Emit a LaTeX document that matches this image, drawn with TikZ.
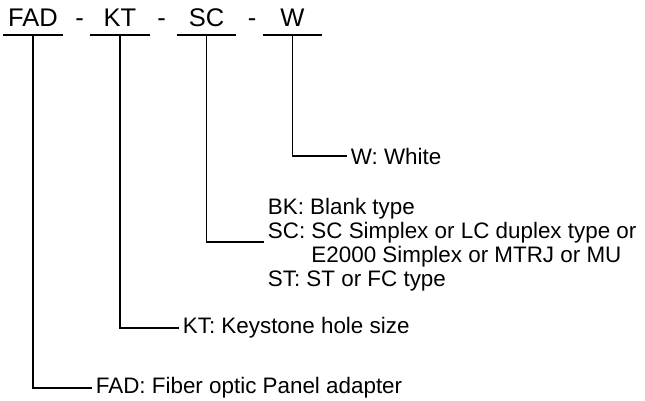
\documentclass[tikz,border=0pt]{standalone}
\usepackage{fontspec}
\setmainfont{Liberation Sans}
\usepackage{tikz}
\usetikzlibrary{positioning}

\begin{document}
\begin{tikzpicture}[x=1pt, y=-1pt, line width=1.8pt,
    codepart/.style={inner sep=0pt, minimum width=58pt, text depth=7pt,
      font=\fontsize{25.5}{28}\selectfont, anchor=base},
    sep/.style={inner sep=0pt, font=\fontsize{25.5}{28}\selectfont, anchor=base},
    meaning/.style={inner xsep=3pt, inner ysep=0pt, anchor=west, align=left,
      font=\fontsize{22.4}{24}\selectfont}]
  \useasboundingbox (0,0) rectangle (645,401);
  % header
  \node[codepart] (fad) at (33,27) {FAD};
  \node[sep] (dashA) at (79.5,27) {-};
  \node[codepart] (kt) at (120,27) {KT};
  \node[sep] (dashB) at (161.5,27) {-};
  \node[codepart] (sc) at (206.5,27) {SC};
  \node[sep] (dashC) at (252,27) {-};
  \node[codepart] (w) at (292.5,27) {W};
  \foreach \part in {fad,kt,sc,w}
    \draw (\part.south west) -- (\part.south east);
  % meanings
  \node[meaning] (wTxt) at (347,156) {W: White};
  \node[meaning] (scTxt) at (264,245) {BK: Blank type\\
    SC: SC Simplex or LC duplex type or\\
    \hphantom{SC: }E2000 Simplex or MTRJ or MU\\
    ST: ST or FC type};
  \node[meaning] (ktTxt) at (179,328) {KT: Keystone hole size};
  \node[meaning] (fadTxt) at (92,388) {FAD: Fiber optic Panel adapter};
  % leaders
  \draw (w.south) |- (wTxt.west);
  \draw (sc.south) |- ([yshift=3pt]scTxt.west);
  \draw (kt.south) |- (ktTxt.west);
  \draw (fad.south) |- (fadTxt.west);
\end{tikzpicture}
\end{document}
